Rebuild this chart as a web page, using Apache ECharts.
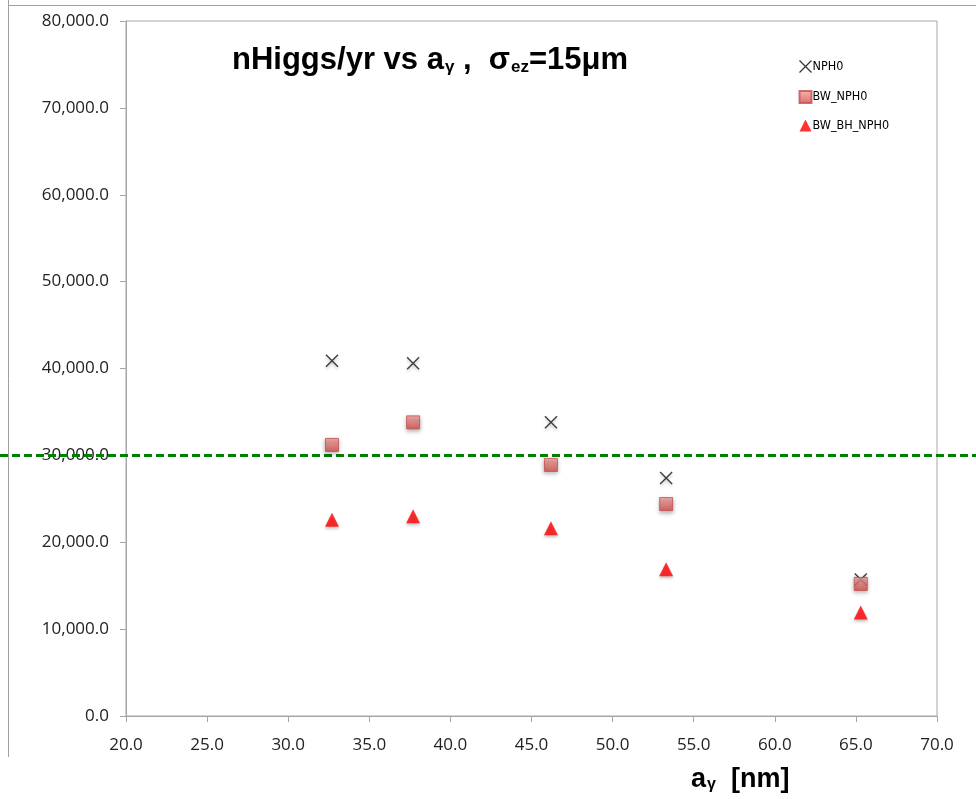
<!DOCTYPE html>
<html>
<head>
<meta charset="utf-8">
<script src="https://cdn.jsdelivr.net/npm/echarts@6/dist/echarts.min.js"></script>
<style>
html,body{margin:0;padding:0;background:#fff;}
#chart{width:976px;height:799px;}
</style>
</head>
<body>
<div id="chart"></div>
<script>
// ---- data ----
var xValues = [32.7, 37.7, 46.2, 53.3, 65.3];
var nph0 = [40900, 40600, 33800, 27400, 15700];
var bwNph0 = [31200, 33800, 28900, 24400, 15200];
var bwBhNph0 = [22600, 23000, 21600, 16900, 11900];
var seriesNames = ['NPH0', 'BW_NPH0', 'BW_BH_NPH0'];
var thresholdValue = [30000];
var xAxisRange = [20, 70];
var yAxisRange = [0, 80000];

function pairs(xs, ys) { return xs.map(function (x, i) { return [x, ys[i]]; }); }

var crossPath = 'path://M0,0 L10,10 M10,0 L0,10';
var axisFont = '"Open Sans", "Liberation Sans", sans-serif';
var boldFont = '"Liberation Sans", Arial, sans-serif';

var chart = echarts.init(document.getElementById('chart'), null, { renderer: 'canvas' });

var option = {
  animation: false,
  backgroundColor: '#ffffff',
  title: [{
    text: '{m|nHiggs/yr vs a}{s|γ}{m| ,  σ}{s|ez}{m|=15μm}',
    left: 227, top: 40,
    textStyle: {
      rich: {
        m: { fontFamily: boldFont, fontWeight: 'bold', fontSize: 31, color: '#000', verticalAlign: 'bottom' },
        s: { fontFamily: boldFont, fontWeight: 'bold', fontSize: 17, color: '#000', padding: [12, 0, 0, 1], verticalAlign: 'bottom' }
      }
    }
  }, {
    text: '{m|a}{s|γ}{m|  [nm]}',
    left: 686, top: 760,
    textStyle: {
      rich: {
        m: { fontFamily: boldFont, fontWeight: 'bold', fontSize: 27, color: '#000', verticalAlign: 'bottom' },
        s: { fontFamily: boldFont, fontWeight: 'bold', fontSize: 16, color: '#000', padding: [12, 0, 0, 1], verticalAlign: 'bottom' }
      }
    }
  }],
  legend: {
    orient: 'vertical',
    left: 792, top: 53,
    itemGap: 15,
    itemWidth: 12, itemHeight: 12,
    textStyle: { fontFamily: '"DejaVu Sans Condensed", "Liberation Sans Narrow", sans-serif', fontSize: 12.5, color: '#000', padding: [0, 0, 0, -4] },
    data: [
      { name: seriesNames[0], icon: crossPath, itemStyle: { color: 'none', borderColor: '#000', borderWidth: 1.2 } },
      { name: seriesNames[1], icon: 'rect' },
      { name: seriesNames[2], icon: 'triangle' }
    ]
  },
  grid: {
    left: 126, right: 39, top: 21, bottom: 83,
    show: true, borderColor: '#a6a6a6', borderWidth: 1, backgroundColor: 'transparent'
  },
  xAxis: {
    type: 'value', min: xAxisRange[0], max: xAxisRange[1], interval: 5,
    axisLine: { show: true, onZero: false, lineStyle: { color: '#a6a6a6', width: 1 } },
    axisTick: { show: true, inside: false, length: 6, lineStyle: { color: '#a6a6a6' } },
    splitLine: { show: false },
    axisLabel: { fontFamily: axisFont, fontSize: 17, color: '#222', margin: 21, formatter: function (v) { return v.toFixed(1); } }
  },
  yAxis: {
    type: 'value', min: yAxisRange[0], max: yAxisRange[1], interval: 10000,
    axisLine: { show: true, lineStyle: { color: '#a6a6a6', width: 1 } },
    axisTick: { show: true, inside: false, length: 6, lineStyle: { color: '#a6a6a6' } },
    splitLine: { show: false },
    axisLabel: {
      fontFamily: axisFont, fontSize: 17, color: '#222', margin: 17,
      formatter: function (v) { return v.toLocaleString('en-US', { minimumFractionDigits: 1, maximumFractionDigits: 1 }); }
    }
  },
  series: [
    {
      name: seriesNames[0], type: 'scatter', z: 2,
      symbol: crossPath, symbolSize: 12,
      itemStyle: { color: 'none', borderColor: '#111', borderWidth: 1.4, shadowColor: 'rgba(0,0,0,0.3)', shadowBlur: 3, shadowOffsetY: 2 },
      data: pairs(xValues, nph0)
    },
    {
      name: seriesNames[1], type: 'scatter', z: 3,
      symbol: 'rect', symbolSize: 13,
      itemStyle: {
        color: new echarts.graphic.LinearGradient(0, 0, 0, 1, [
          { offset: 0, color: '#f4a0a0' }, { offset: 1, color: '#d24b4b' }
        ]),
        borderColor: '#c0504d', borderWidth: 1,
        shadowColor: 'rgba(0,0,0,0.35)', shadowBlur: 4, shadowOffsetY: 2
      },
      data: pairs(xValues, bwNph0)
    },
    {
      name: seriesNames[2], type: 'scatter', z: 3,
      symbol: 'triangle', symbolSize: [14, 14],
      itemStyle: { color: '#ff0000', shadowColor: 'rgba(0,0,0,0.3)', shadowBlur: 3, shadowOffsetY: 2 },
      data: pairs(xValues, bwBhNph0)
    }
  ]
};
chart.setOption(option);

// threshold line across the full width, positioned through the y scale
var yThr = chart.convertToPixel({ gridIndex: 0 }, [xAxisRange[0], thresholdValue[0]])[1];
chart.setOption({
  graphic: [
    { type: 'line', z: 1, shape: { x1: 0, y1: yThr, x2: 976, y2: yThr },
      style: { stroke: '#008000', lineWidth: 3, lineDash: [8, 4] } },
    { type: 'line', z: 0, shape: { x1: 8.5, y1: 0, x2: 8.5, y2: 757 },
      style: { stroke: '#a0a0a0', lineWidth: 1 } },
    { type: 'line', z: 0, shape: { x1: 8, y1: 5.5, x2: 976, y2: 5.5 },
      style: { stroke: '#a0a0a0', lineWidth: 1 } }
  ]
});
</script>
</body>
</html>
